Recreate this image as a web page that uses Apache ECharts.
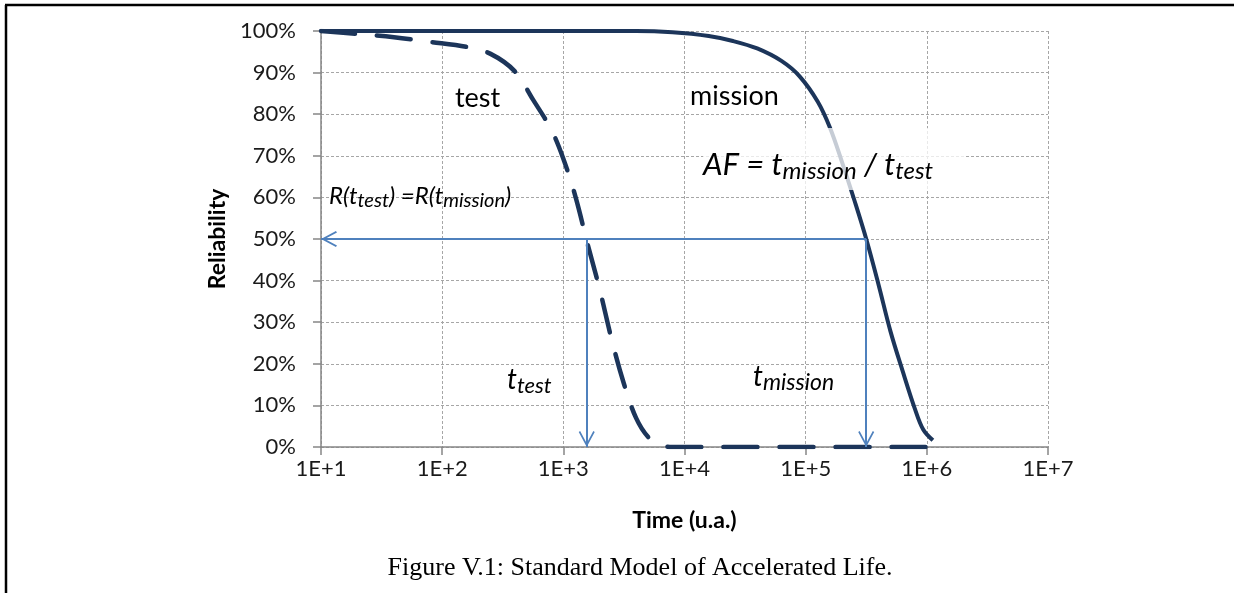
<!DOCTYPE html>
<html>
<head>
<meta charset="utf-8">
<script src="https://cdn.jsdelivr.net/npm/echarts@6/dist/echarts.min.js"></script>
<style>
  html, body { margin: 0; padding: 0; background: #fff; }
  #chart { width: 1234px; height: 593px; }
</style>
</head>
<body>
<div id="chart"></div>
<script>
// time in u.a. (log axis), reliability in %
const testTime = [10, 20, 40, 79, 158, 251, 398, 562, 794, 1000, 1259, 1585, 1995, 2512, 3162, 3981, 5012, 6310, 7943, 1120000];
const testRel  = [100, 99.3, 98.5, 97.4, 96.2, 94.5, 90.3, 83.5, 76.3, 69.3, 60.2, 48.8, 37.9, 25.7, 15.2, 7.0, 2.4, 0.5, 0, 0];

const missionTime = [10, 3981, 7943, 15849, 25119, 39811, 63096, 89125, 125893, 158489, 199526, 251189, 316228, 398107, 501187, 630957, 794328, 933254, 1122018];
const missionRel  = [100, 100, 99.7, 98.8, 97.6, 95.8, 92.8, 89.1, 83.0, 76.8, 68.5, 59.5, 50, 39.2, 27.8, 18.3, 9.3, 4.2, 1.6];

// where both curves cross 50%
const tTest = 1560;
const tMission = 316000;
const rCross = 50;

const yTicks = [0, 10, 20, 30, 40, 50, 60, 70, 80, 90, 100];

const navy = '#1c355a';
const arrowBlue = '#4f81bd';
const chevron = 'path://M0,0 L8,14 L6.6,15 L0,3.6 L-6.6,15 L-8,14 Z';

// arrow end point with an open head, tip sitting on the point
function arrowEnd(coord) {
  return { coord: coord, symbol: chevron, symbolSize: 16, symbolOffset: [0, 8] };
}

const chart = echarts.init(document.getElementById('chart'));

const option = {
  animation: false,
  backgroundColor: '#fff',
  grid: { left: 321, right: 186, top: 31, bottom: 146 },
  xAxis: {
    type: 'log',
    logBase: 10,
    min: 10,
    max: 1e7,
    name: 'Time (u.a.)',
    nameLocation: 'middle',
    nameGap: 62,
    nameTextStyle: { fontFamily: 'Lato', fontWeight: 'bold', fontSize: 23, color: '#000' },
    axisLine: { show: true, lineStyle: { color: '#868686', width: 1.5 } },
    axisTick: { show: true, length: 8, lineStyle: { color: '#868686', width: 1.5 } },
    axisLabel: {
      fontFamily: 'Lato', fontSize: 22, color: '#1a1a1a', margin: 11,
      formatter: v => '1E+' + Math.round(Math.log10(v))
    },
    splitLine: { show: true, lineStyle: { color: '#a6a6a6', type: [3, 2], width: 1 } }
  },
  yAxis: {
    type: 'value',
    min: yTicks[0],
    max: yTicks[yTicks.length - 1],
    interval: 10,
    name: 'Reliability',
    nameLocation: 'middle',
    nameGap: 92,
    nameTextStyle: { fontFamily: 'Lato', fontWeight: 'bold', fontSize: 23, color: '#000' },
    axisLine: { show: true, lineStyle: { color: '#868686', width: 1.5 } },
    axisTick: { show: true, length: 8, lineStyle: { color: '#868686', width: 1.5 } },
    axisLabel: { fontFamily: 'Lato', fontSize: 22, color: '#1a1a1a', margin: 25, formatter: '{value}%' },
    splitLine: { show: true, lineStyle: { color: '#a6a6a6', type: [3, 2], width: 1 } }
  },
  series: [
    {
      name: 'mission',
      type: 'line',
      data: missionTime.map((t, i) => [t, missionRel[i]]),
      showSymbol: false,
      smooth: 0.35,
      lineStyle: { color: navy, width: 4 },
      markLine: {
        silent: true,
        symbol: 'none',
        label: { show: false },
        lineStyle: { color: arrowBlue, width: 2, type: 'solid' },
        itemStyle: { color: arrowBlue },
        data: [
          [{ coord: [tMission, rCross] }, arrowEnd([10, rCross])],
          [{ coord: [tTest, rCross] }, arrowEnd([tTest, 0])],
          [{ coord: [tMission, rCross] }, arrowEnd([tMission, 0])]
        ]
      },
      z: 3
    },
    {
      name: 'test',
      type: 'line',
      data: testTime.map((t, i) => [t, testRel[i]]),
      showSymbol: false,
      smooth: 0.35,
      lineStyle: { color: navy, width: 4.5, type: [34, 22], cap: 'round' },
      z: 2
    }
  ],
  graphic: [
    // frame
    { type: 'line', shape: { x1: 5, y1: 5, x2: 1234, y2: 5 }, style: { stroke: '#000', lineWidth: 2.5 } },
    { type: 'line', shape: { x1: 6, y1: 5, x2: 6, y2: 593 }, style: { stroke: '#000', lineWidth: 2.5 } },
    // soft white box behind the AF text
    { type: 'rect', shape: { x: 703, y: 128, width: 262, height: 62 }, style: { fill: 'rgba(255,255,255,0.75)' }, z: 10 },
    { type: 'text', z: 11, style: { x: 455, y: 98, text: 'test', font: '27px Lato', fill: '#000', verticalAlign: 'middle' } },
    { type: 'text', z: 11, style: { x: 690, y: 96, text: 'mission', font: '27px Lato', fill: '#000', verticalAlign: 'middle' } },
    {
      type: 'text', z: 11,
      style: {
        x: 703, y: 146, verticalAlign: 'top',
        text: '{m|AF = t}{s|mission}{m| / t}{s|test}',
        rich: {
          m: { fontFamily: 'Lato', fontStyle: 'italic', fontSize: 31, lineHeight: 37, fill: '#000' },
          s: { fontFamily: 'Lato', fontStyle: 'italic', fontSize: 24, lineHeight: 15, verticalAlign: 'bottom', fill: '#000' }
        }
      }
    },
    {
      type: 'text', z: 11,
      style: {
        x: 329, y: 182, verticalAlign: 'top',
        text: '{m|R(t}{s|test}{m|) =R(t}{s|mission}{m|)}',
        rich: {
          m: { fontFamily: 'Lato', fontStyle: 'italic', fontSize: 24, lineHeight: 29, fill: '#000' },
          s: { fontFamily: 'Lato', fontStyle: 'italic', fontSize: 20, lineHeight: 17, verticalAlign: 'bottom', fill: '#000' }
        }
      }
    },
    {
      type: 'text', z: 11,
      style: {
        x: 507, y: 363, verticalAlign: 'top',
        text: '{m|t}{s|test}',
        rich: {
          m: { fontFamily: 'Lato', fontStyle: 'italic', fontSize: 28, lineHeight: 34, fill: '#000' },
          s: { fontFamily: 'Lato', fontStyle: 'italic', fontSize: 22, lineHeight: 14, verticalAlign: 'bottom', fill: '#000' }
        }
      }
    },
    {
      type: 'text', z: 11,
      style: {
        x: 753, y: 360, verticalAlign: 'top',
        text: '{m|t}{s|mission}',
        rich: {
          m: { fontFamily: 'Lato', fontStyle: 'italic', fontSize: 28, lineHeight: 34, fill: '#000' },
          s: { fontFamily: 'Lato', fontStyle: 'italic', fontSize: 23, lineHeight: 14, verticalAlign: 'bottom', fill: '#000' }
        }
      }
    },
    // caption
    {
      type: 'text',
      style: {
        x: 640, y: 568, text: 'Figure V.1: Standard Model of Accelerated Life.',
        font: '26px "Liberation Serif"', fill: '#000', align: 'center', verticalAlign: 'middle'
      }
    }
  ]
};

chart.setOption(option);
</script>
</body>
</html>
